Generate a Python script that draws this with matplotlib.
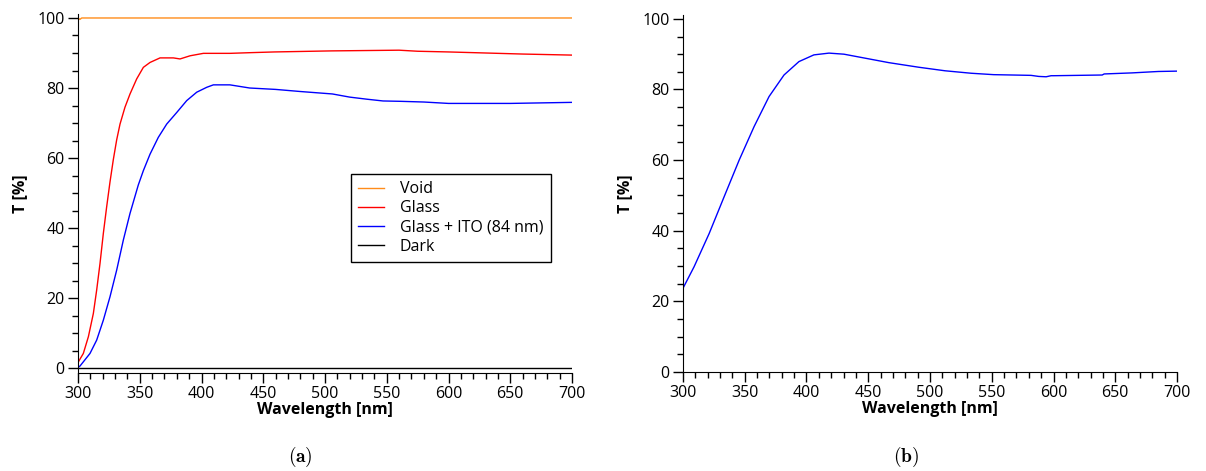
import matplotlib
matplotlib.use("Agg")
import matplotlib.pyplot as plt
from matplotlib.ticker import MultipleLocator

# values
void_wl = [300, 301.5, 303, 700]
void_t = [100, 99.6, 100, 100]

glass_wl = [300.3, 304.3, 308.4, 312.4, 315.1, 317.8, 320.5, 323.2, 325.9,
            328.6, 331.3, 334, 338, 342.1, 347.5, 352.9, 358.3, 366.4, 377.2,
            382.6, 390.7, 401.5, 423, 440, 459, 505, 560, 575, 600, 630, 660, 700]
glass_t = [1.8, 4.2, 9, 15.6, 22.3, 29.9, 38.5, 46.1, 53.2,
           59.6, 65.2, 69.7, 74.5, 78.3, 82.6, 85.9, 87.3, 88.6, 88.6,
           88.3, 89.2, 89.9, 89.9, 90.1, 90.3, 90.6, 90.8, 90.5, 90.3, 90.0, 89.7, 89.4]

ito_wl = [300, 301.6, 309.7, 315.1, 320.5, 325.9, 331.3, 336.7, 342.1, 348.8,
          352.9, 358.3, 365, 371.8, 379.9, 388, 396.1, 404.2, 409.6, 423,
          439, 460, 480, 506, 520, 534, 547, 561, 580, 600, 650, 700]
ito_t = [0.2, 0.6, 4.2, 8, 13.7, 20.4, 28, 36.6, 44.2, 52.3,
         56.4, 61.1, 65.9, 69.7, 73.0, 76.4, 78.8, 80.2, 80.9, 80.9,
         80.0, 79.6, 79.0, 78.3, 77.4, 76.8, 76.3, 76.2, 76.0, 75.6, 75.6, 75.9]

dark_wl = [300, 700]
dark_t = [0, 0]

# (b) ITO alone
b_wl = [300.6, 309, 321.2, 333.3, 345.5, 357.6, 369.7, 381.8, 393.9, 406,
        418.2, 430.3, 448.5, 466.7, 490.9, 512.1, 533.3, 551.5, 581.8, 588,
        594, 598, 600, 639.4, 641, 663.6, 684.8, 700]
b_t = [24.1, 29.8, 39.2, 49.6, 60, 69.5, 78, 84.1, 87.9, 89.8,
       90.3, 90.0, 88.8, 87.6, 86.3, 85.3, 84.6, 84.2, 84.0, 83.7,
       83.6, 83.9, 83.9, 84.1, 84.4, 84.7, 85.1, 85.2]

plt.rcParams["font.family"] = ["Open Sans", "DejaVu Sans"]
plt.rcParams["font.size"] = 11.5
plt.rcParams["mathtext.fontset"] = "cm"

fig = plt.figure(figsize=(12.06, 4.71), dpi=100)
ax1 = fig.add_axes([0.0647, 0.208, 0.4096, 0.762])
ax2 = fig.add_axes([0.5663, 0.2102, 0.4097, 0.758])

ax1.plot(void_wl, void_t, color="#ff8c1a", lw=1, label="Void")
ax1.plot(glass_wl, glass_t, color="#ff0000", lw=1, label="Glass")
ax1.plot(ito_wl, ito_t, color="#0000ff", lw=1, label="Glass + ITO (84 nm)")
ax1.plot(dark_wl, dark_t, color="black", lw=1, label="Dark")
ax1.set_ylim(-1.4, 101.1)

ax2.plot(b_wl, b_t, color="#0000ff", lw=1)
ax2.set_ylim(0, 101.1)

for ax in (ax1, ax2):
    ax.set_xlim(300, 700)
    ax.spines["top"].set_visible(False)
    ax.spines["right"].set_visible(False)
    ax.xaxis.set_major_locator(MultipleLocator(50))
    ax.xaxis.set_minor_locator(MultipleLocator(10))
    ax.yaxis.set_major_locator(MultipleLocator(20))
    ax.yaxis.set_minor_locator(MultipleLocator(5))
    ax.tick_params(which="major", direction="out", length=7.5, width=1, pad=2)
    ax.tick_params(which="minor", direction="out", length=4.5, width=1)
    ax.set_xlabel("Wavelength [nm]", fontweight="bold", labelpad=0)
    ax.set_ylabel("T [%]", fontweight="bold", labelpad=7)

leg = ax1.legend(loc="center", bbox_to_anchor=(0.755, 0.432), fancybox=False,
                 edgecolor="black", framealpha=1, handlelength=1.6,
                 labelspacing=0.2, borderpad=0.45, handletextpad=1.0)
leg.get_frame().set_linewidth(1)

fig.text(300 / 1206, 1 - 457 / 471, r"$\mathbf{(a)}$", ha="center", va="center", fontsize=14)
fig.text(906 / 1206, 1 - 457 / 471, r"$\mathbf{(b)}$", ha="center", va="center", fontsize=14)

fig.savefig("out.png", dpi=100)
